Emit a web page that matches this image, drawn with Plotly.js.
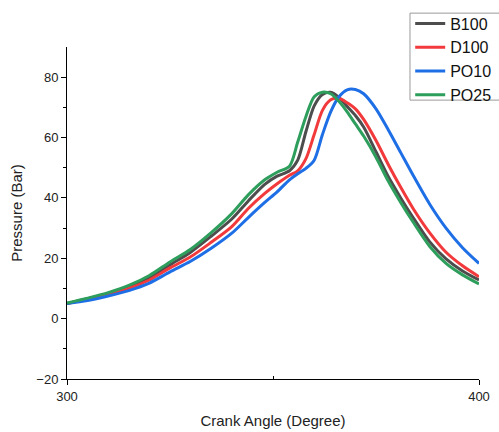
<!DOCTYPE html>
<html>
<head>
<meta charset="utf-8">
<script src="https://cdn.plot.ly/plotly-3.0.1.min.js"></script>
<style>
  html, body { margin: 0; padding: 0; background: #ffffff; }
  #chart { width: 499px; height: 432px; }
</style>
</head>
<body>
<div id="chart"></div>
<script>
// Crank angle (degree) at which the cylinder pressure was sampled
const crankAngle = [300, 305, 310, 315, 320, 325, 330, 335, 340, 344, 348, 351, 354, 356, 358,
                    360, 362, 364, 366, 368, 370, 372, 375, 378, 381, 384, 388, 392, 396, 400];

// Cylinder pressure (bar) for each fuel
const pressureB100 = [5.0, 6.6, 8.3, 10.5, 13.5, 17.8, 22.0, 27.3, 33.0, 39.0, 44.5, 47.2, 49.0, 52.5, 62.0,
                      70.5, 74.3, 75.0, 73.3, 70.3, 67.3, 63.5, 55.3, 47.0, 40.0, 33.5, 25.5, 19.8, 15.8, 12.8];
const pressureD100 = [5.0, 6.5, 8.0, 10.0, 12.8, 16.8, 20.5, 25.3, 30.5, 36.5, 41.5, 44.7, 47.5, 49.0, 53.0,
                      61.0, 69.0, 72.5, 73.0, 71.5, 69.5, 66.0, 59.0, 51.0, 43.5, 36.5, 28.5, 22.0, 17.5, 13.9];
const pressurePO10 = [5.0, 6.0, 7.5, 9.3, 11.8, 15.5, 19.0, 23.3, 28.3, 33.5, 38.5, 42.0, 46.0, 48.0, 49.8,
                      52.5, 61.0, 68.5, 73.5, 75.8, 75.9, 74.5, 69.5, 62.5, 55.0, 47.5, 38.0, 30.0, 23.5, 18.3];
const pressurePO25 = [5.2, 6.8, 8.6, 11.0, 14.3, 18.8, 23.0, 28.5, 34.8, 41.0, 46.0, 48.5, 50.5, 58.5, 67.0,
                      73.5, 75.0, 74.5, 72.0, 68.5, 64.5, 60.5, 53.5, 45.5, 38.5, 32.0, 24.0, 18.3, 14.5, 11.5];

const seriesNames = ['B100', 'D100', 'PO10', 'PO25'];
const seriesValues = [pressureB100, pressureD100, pressurePO10, pressurePO25];
const seriesColors = ['#4d4d4d', '#f23a3c', '#1e6fe6', '#2e9e5c'];

const traces = seriesNames.map((name, i) => ({
  type: 'scatter',
  mode: 'lines',
  name: name,
  x: crankAngle,
  y: seriesValues[i],
  line: { color: seriesColors[i], width: 3, shape: 'spline', smoothing: 0.8 }
}));

const fontFamily = 'Liberation Sans, Arial, sans-serif';
const axisFont = { family: fontFamily, size: 13, color: '#222222' };

const layout = {
  width: 499,
  height: 432,
  margin: { l: 67, r: 20, t: 47, b: 53, autoexpand: false },
  paper_bgcolor: '#ffffff',
  plot_bgcolor: '#ffffff',
  font: { family: fontFamily, color: '#222222' },
  showlegend: true,
  legend: {
    x: 0.833, y: 1.122, xanchor: 'left', yanchor: 'top',
    bgcolor: 'rgba(0,0,0,0)', borderwidth: 0,
    font: { family: fontFamily, size: 16, color: '#111111' },
    tracegroupgap: 0
  },
  // legend frame, running past the right edge of the page
  shapes: [{
    type: 'rect', xref: 'paper', yref: 'paper',
    x0: 0.8325, x1: 1.2, y0: 0.840, y1: 1.102,
    line: { color: '#9a9a9a', width: 1 }, fillcolor: 'rgba(255,255,255,0)',
    layer: 'below'
  }],
  xaxis: {
    range: [300, 400],
    tickvals: [300, 400],
    ticks: 'outside', ticklen: 5, tickwidth: 1, tickcolor: '#000000',
    minor: { tickvals: [350], ticks: 'inside', ticklen: 3, tickcolor: '#000000', showgrid: false },
    showline: true, linecolor: '#000000', linewidth: 1,
    showgrid: false, zeroline: false,
    tickfont: axisFont,
    title: { text: 'Crank Angle (Degree)', font: { family: fontFamily, size: 15, color: '#222222' }, standoff: 12 }
  },
  yaxis: {
    range: [-20, 90],
    tickvals: [-20, 0, 20, 40, 60, 80],
    ticktext: ['\u221220', '0', '20', '40', '60', '80'],
    ticks: 'outside', ticklen: 5, tickwidth: 1, tickcolor: '#000000',
    minor: { tickvals: [-10, 10, 30, 50, 70], ticks: 'outside', ticklen: 3, tickcolor: '#000000', showgrid: false },
    showline: true, linecolor: '#000000', linewidth: 1,
    showgrid: false, zeroline: false,
    tickfont: axisFont,
    title: { text: 'Pressure (Bar)', font: { family: fontFamily, size: 15, color: '#222222' }, standoff: 10 }
  }
};

Plotly.newPlot('chart', traces, layout, { displayModeBar: false, staticPlot: true });
</script>
</body>
</html>
